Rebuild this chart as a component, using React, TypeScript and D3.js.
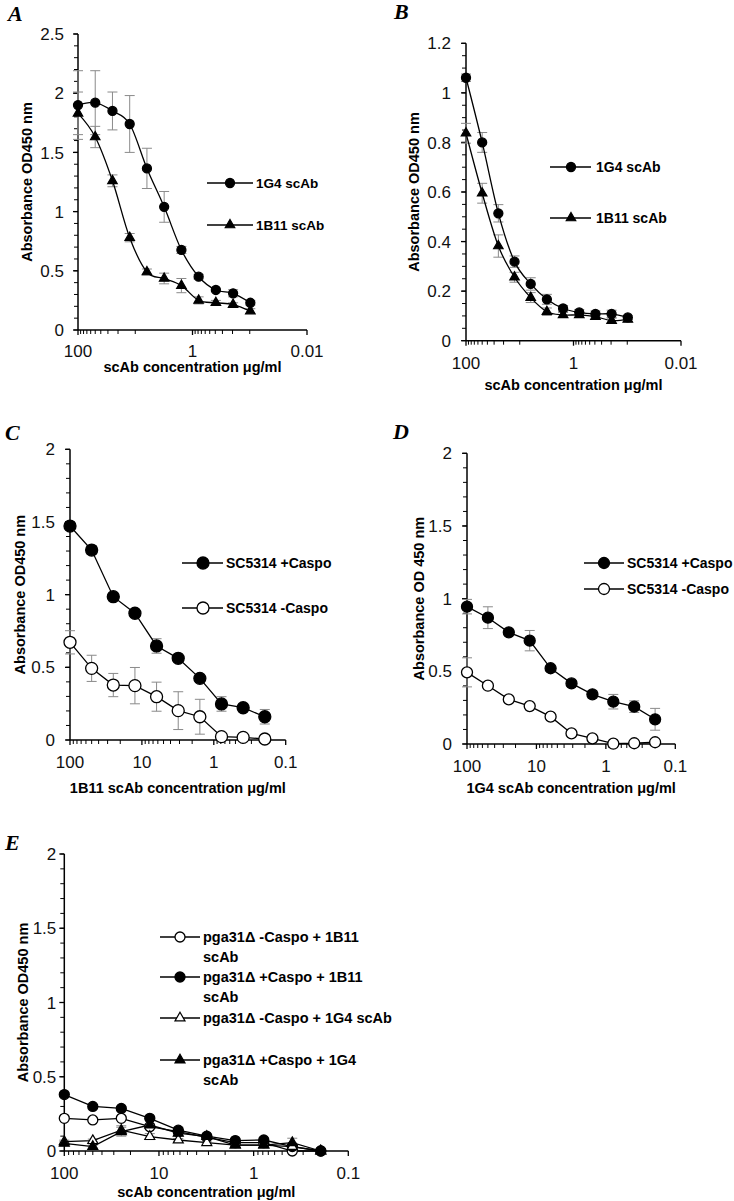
import React from 'react';
import * as d3 from 'd3';

// ---------- data ----------
const concAB = [100, 50, 25, 12.5, 6.25, 3.125, 1.5625, 0.78125, 0.390625, 0.1953125, 0.09765625];
const concCDE = [100, 50, 25, 12.5, 6.25, 3.125, 1.5625, 0.78125, 0.390625, 0.1953125];

const xTicksAB = [100, 1, 0.01];
const xTicksCDE = [100, 10, 1, 0.1];
const yTicksA = [0, 0.5, 1, 1.5, 2, 2.5];
const yTicksB = [0, 0.2, 0.4, 0.6, 0.8, 1, 1.2];
const yTicks2 = [0, 0.5, 1, 1.5, 2];

// Panel A
const a1G4 = [1.9, 1.92, 1.85, 1.74, 1.365, 1.04, 0.676, 0.45, 0.338, 0.31, 0.23];
const a1G4Err = [0.29, 0.27, 0.16, 0.24, 0.17, 0.13, 0.03, 0.02, 0.015, 0.03, 0.02];
const a1B11 = [1.83, 1.63, 1.26, 0.78, 0.49, 0.435, 0.375, 0.25, 0.23, 0.215, 0.16];
const a1B11Err = [0.18, 0.09, 0.05, 0.035, 0.025, 0.045, 0.06, 0.03, 0.02, 0.015, 0.02];

// Panel B
const b1G4 = [1.061, 0.8, 0.514, 0.319, 0.229, 0.167, 0.13, 0.114, 0.108, 0.108, 0.094];
const b1G4Err = [0.015, 0.04, 0.035, 0.023, 0.025, 0.02, 0.012, 0.012, 0.012, 0.015, 0.008];
const b1B11 = [0.837, 0.595, 0.382, 0.256, 0.174, 0.117, 0.104, 0.104, 0.097, 0.081, 0.086];
const b1B11Err = [0.04, 0.04, 0.045, 0.02, 0.02, 0.015, 0.01, 0.01, 0.01, 0.01, 0.008];

// Panel C
const cPlus = [1.472, 1.307, 0.986, 0.872, 0.647, 0.562, 0.424, 0.248, 0.222, 0.16];
const cPlusErr = [0.02, 0.03, 0.01, 0.01, 0.05, 0.01, 0.01, 0.05, 0.01, 0.05];
const cMinus = [0.672, 0.493, 0.378, 0.374, 0.298, 0.202, 0.16, 0.023, 0.018, 0.007];
const cMinusErr = [0.08, 0.09, 0.08, 0.125, 0.1, 0.13, 0.12, 0.01, 0.01, 0.005];

// Panel D
const dPlus = [0.945, 0.869, 0.768, 0.711, 0.521, 0.417, 0.342, 0.291, 0.257, 0.17];
const dPlusErr = [0.05, 0.075, 0.015, 0.07, 0.02, 0.02, 0.025, 0.05, 0.04, 0.075];
const dMinus = [0.493, 0.401, 0.307, 0.261, 0.188, 0.073, 0.039, 0.002, 0.005, 0.012];
const dMinusErr = [0.1, 0.01, 0.01, 0.01, 0.01, 0.01, 0.01, 0.005, 0.005, 0.005];

// Panel E
const eMinus1B11 = [0.22, 0.209, 0.22, 0.164, 0.13, 0.092, 0.056, 0.056, 0.0, 0.0];
const eMinus1B11Err = [0.01, 0.01, 0.01, 0.01, 0.01, 0.01, 0.01, 0.01, 0.005, 0.005];
const ePlus1B11 = [0.38, 0.3, 0.287, 0.22, 0.14, 0.1, 0.07, 0.074, 0.03, 0.0];
const ePlus1B11Err = [0.01, 0.01, 0.01, 0.01, 0.02, 0.01, 0.01, 0.01, 0.01, 0.005];
const eMinus1G4 = [0.063, 0.07, 0.14, 0.097, 0.074, 0.056, 0.04, 0.04, 0.03, 0.0];
const eMinus1G4Err = [0.01, 0.01, 0.03, 0.02, 0.01, 0.01, 0.01, 0.01, 0.01, 0.005];
const ePlus1G4 = [0.052, 0.03, 0.13, 0.175, 0.12, 0.097, 0.04, 0.04, 0.056, 0.0];
const ePlus1G4Err = [0.01, 0.01, 0.03, 0.01, 0.02, 0.01, 0.01, 0.01, 0.03, 0.005];

// ---------- styles ----------
const SANS = '"Liberation Sans", Arial, sans-serif';
const SERIF = '"Liberation Serif", "Times New Roman", serif';
const ERR = '#8a8a8a';

type Series = {
  label: string[];
  values: number[];
  errors: number[];
  marker: 'circle' | 'triangle';
  filled: boolean;
};

type PanelCfg = {
  letter: string; letterX: number; letterY: number;
  x0: number; x1: number; xDomain: [number, number];
  yTop: number; yBottom: number; yMax: number; yMinor: number;
  yTicks: number[]; xTicks: number[]; base100: boolean; tickGap: number;
  yTitle: string; yTitleX: number;
  xTitle: string; xTitleY: number; xTickY: number;
  tickFont: number; titleFont: number;
  conc: number[]; series: Series[]; smooth: boolean;
  r: number; tri: number;
  legend: { lx0: number; lx1: number; mx: number; tx: number; rows: number[]; font: number; lineGap: number };
};

function triPath(cx: number, cy: number, s: number) {
  const h = s * 0.866;
  return `M${cx},${cy - (2 * h) / 3}L${cx + s / 2},${cy + h / 3}L${cx - s / 2},${cy + h / 3}Z`;
}

function Marker({ x, y, s, r, tri }: { x: number; y: number; s: Series; r: number; tri: number }) {
  const fill = s.filled ? '#000' : '#fff';
  if (s.marker === 'circle') return <circle cx={x} cy={y} r={r} fill={fill} stroke="#000" strokeWidth={1.3} />;
  return <path d={triPath(x, y, tri)} fill={fill} stroke="#000" strokeWidth={1.2} />;
}

function Panel({ p }: { p: PanelCfg }) {
  const x = d3.scaleLog().domain(p.xDomain).range([p.x0, p.x1]);
  const y = d3.scaleLinear().domain([0, p.yMax]).range([p.yBottom, p.yTop]);
  const curve = p.smooth ? d3.curveCatmullRom.alpha(0) : d3.curveLinear;

  // minor ticks
  const xMinor: number[] = [];
  if (p.base100) {
    for (const dec of [1, 0.01]) for (let k = 10; k <= 90; k += 10) xMinor.push(dec * k);
  } else {
    for (const dec of [10, 1, 0.1]) for (let k = 2; k <= 9; k++) xMinor.push(dec * k);
  }
  const yMinor = d3.range(0, p.yMax + 1e-9, p.yMinor);

  return (
    <g>
      <text x={p.letterX} y={p.letterY} fontFamily={SERIF} fontWeight="bold" fontStyle="italic" fontSize={22}>{p.letter}</text>
      {/* y axis */}
      <line x1={p.x0} x2={p.x0} y1={p.yTop} y2={p.yBottom} stroke="#000" strokeWidth={1.5} />
      {yMinor.map((v, i) => (
        <line key={'ym' + i} x1={p.x0 - 4} x2={p.x0} y1={y(v)} y2={y(v)} stroke="#000" strokeWidth={1} />
      ))}
      {p.yTicks.map((v) => (
        <g key={'yt' + v}>
          <line x1={p.x0 - 5} x2={p.x0} y1={y(v)} y2={y(v)} stroke="#000" strokeWidth={1.3} />
          <text x={p.x0 - p.tickGap} y={y(v)} dy="0.36em" textAnchor="end" fontFamily={SANS} fontSize={p.tickFont} fill="#111">{String(v)}</text>
        </g>
      ))}
      {/* x axis */}
      <line x1={p.x0} x2={p.x1} y1={p.yBottom} y2={p.yBottom} stroke="#000" strokeWidth={1.5} />
      {xMinor.map((v, i) => (
        <line key={'xm' + i} x1={x(v)} x2={x(v)} y1={p.yBottom} y2={p.yBottom + 4} stroke="#000" strokeWidth={1} />
      ))}
      {p.xTicks.map((v) => (
        <g key={'xt' + v}>
          <line x1={x(v)} x2={x(v)} y1={p.yBottom} y2={p.yBottom + 5} stroke="#000" strokeWidth={1.3} />
          <text x={x(v)} y={p.xTickY} textAnchor="middle" fontFamily={SANS} fontSize={p.tickFont} fill="#111">{String(v)}</text>
        </g>
      ))}
      {/* titles */}
      <text transform={`translate(${p.yTitleX},${(p.yTop + p.yBottom) / 2}) rotate(-90)`} textAnchor="middle" dy="0.36em"
        fontFamily={SANS} fontWeight="bold" fontSize={p.titleFont}>{p.yTitle}</text>
      <text x={(p.x0 + p.x1) / 2} y={p.xTitleY} textAnchor="middle" fontFamily={SANS} fontWeight="bold" fontSize={p.titleFont}>{p.xTitle}</text>
      {/* error bars */}
      {p.series.map((s, si) => (
        <g key={'e' + si} stroke={ERR} strokeWidth={1}>
          {s.values.map((v, i) => {
            const cx = x(p.conc[i]);
            const t = y(v + s.errors[i]);
            const b = y(Math.max(0, v - s.errors[i]));
            return (
              <g key={i}>
                <line x1={cx} x2={cx} y1={t} y2={b} />
                <line x1={cx - 5} x2={cx + 5} y1={t} y2={t} />
                <line x1={cx - 5} x2={cx + 5} y1={b} y2={b} />
              </g>
            );
          })}
        </g>
      ))}
      {/* lines */}
      {p.series.map((s, si) => {
        const gen = d3.line<number>().x((_, i) => x(p.conc[i])).y((d) => y(d)).curve(curve);
        return <path key={'l' + si} d={gen(s.values) || ''} fill="none" stroke="#000" strokeWidth={1.3} />;
      })}
      {/* markers */}
      {p.series.map((s, si) => (
        <g key={'m' + si}>
          {s.values.map((v, i) => (
            <Marker key={i} x={x(p.conc[i])} y={y(v)} s={s} r={p.r} tri={p.tri} />
          ))}
        </g>
      ))}
      {/* legend */}
      {p.series.map((s, si) => {
        const ry = p.legend.rows[si];
        return (
          <g key={'lg' + si}>
            <line x1={p.legend.lx0} x2={p.legend.lx1} y1={ry} y2={ry} stroke="#000" strokeWidth={1.3} />
            <Marker x={p.legend.mx} y={ry} s={s} r={p.r} tri={p.tri} />
            <text x={p.legend.tx} y={ry} fontFamily={SANS} fontWeight="bold" fontSize={p.legend.font}>
              {s.label.map((t, k) => (
                <tspan key={k} x={p.legend.tx} dy={k === 0 ? '0.36em' : p.legend.lineGap}>{t}</tspan>
              ))}
            </text>
          </g>
        );
      })}
    </g>
  );
}

const panels: PanelCfg[] = [
  {
    letter: 'A', letterX: 8, letterY: 21,
    x0: 78, x1: 307, xDomain: [100, 0.01], yTop: 34, yBottom: 330, yMax: 2.5, yMinor: 0.1,
    yTicks: yTicksA, xTicks: xTicksAB, base100: true, tickGap: 14,
    yTitle: 'Absorbance OD450 nm', yTitleX: 27, xTitle: 'scAb concentration μg/ml', xTitleY: 372, xTickY: 357,
    tickFont: 17, titleFont: 14.5, conc: concAB, smooth: true, r: 4.5, tri: 9.5,
    series: [
      { label: ['1G4 scAb'], values: a1G4, errors: a1G4Err, marker: 'circle', filled: true },
      { label: ['1B11 scAb'], values: a1B11, errors: a1B11Err, marker: 'triangle', filled: true },
    ],
    legend: { lx0: 207, lx1: 253, mx: 230, tx: 256, rows: [183, 225], font: 13.5, lineGap: 0 },
  },
  {
    letter: 'B', letterX: 394, letterY: 19,
    x0: 466, x1: 681, xDomain: [100, 0.01], yTop: 43.3, yBottom: 340.7, yMax: 1.2, yMinor: 0.05,
    yTicks: yTicksB, xTicks: xTicksAB, base100: true, tickGap: 15,
    yTitle: 'Absorbance OD450 nm', yTitleX: 414, xTitle: 'scAb concentration μg/ml', xTitleY: 390, xTickY: 369,
    tickFont: 17, titleFont: 14.5, conc: concAB, smooth: true, r: 4.5, tri: 9.5,
    series: [
      { label: ['1G4 scAb'], values: b1G4, errors: b1G4Err, marker: 'circle', filled: true },
      { label: ['1B11 scAb'], values: b1B11, errors: b1B11Err, marker: 'triangle', filled: true },
    ],
    legend: { lx0: 550, lx1: 591, mx: 571, tx: 596, rows: [167, 218], font: 14, lineGap: 0 },
  },
  {
    letter: 'C', letterX: 5, letterY: 440,
    x0: 70, x1: 285.7, xDomain: [100, 0.1], yTop: 449.3, yBottom: 740, yMax: 2, yMinor: 0.1,
    yTicks: yTicks2, xTicks: xTicksCDE, base100: false, tickGap: 15,
    yTitle: 'Absorbance OD450 nm', yTitleX: 20, xTitle: '1B11 scAb concentration μg/ml', xTitleY: 793, xTickY: 768,
    tickFont: 17, titleFont: 14.5, conc: concCDE, smooth: false, r: 6, tri: 10,
    series: [
      { label: ['SC5314 +Caspo'], values: cPlus, errors: cPlusErr, marker: 'circle', filled: true },
      { label: ['SC5314 -Caspo'], values: cMinus, errors: cMinusErr, marker: 'circle', filled: false },
    ],
    legend: { lx0: 182, lx1: 223, mx: 203, tx: 226, rows: [563, 608], font: 14, lineGap: 0 },
  },
  {
    letter: 'D', letterX: 393, letterY: 439,
    x0: 467, x1: 675.3, xDomain: [100, 0.1], yTop: 453.3, yBottom: 744, yMax: 2, yMinor: 0.1,
    yTicks: yTicks2, xTicks: xTicksCDE, base100: false, tickGap: 15,
    yTitle: 'Absorbance OD 450 nm', yTitleX: 419, xTitle: '1G4 scAb concentration μg/ml', xTitleY: 793, xTickY: 772,
    tickFont: 17, titleFont: 14.5, conc: concCDE, smooth: false, r: 5.5, tri: 10,
    series: [
      { label: ['SC5314 +Caspo'], values: dPlus, errors: dPlusErr, marker: 'circle', filled: true },
      { label: ['SC5314 -Caspo'], values: dMinus, errors: dMinusErr, marker: 'circle', filled: false },
    ],
    legend: { lx0: 584, lx1: 624, mx: 604, tx: 627, rows: [563, 589], font: 14, lineGap: 0 },
  },
  {
    letter: 'E', letterX: 5, letterY: 850,
    x0: 64.3, x1: 348.3, xDomain: [100, 0.1], yTop: 854, yBottom: 1151, yMax: 2, yMinor: 0.1,
    yTicks: yTicks2, xTicks: xTicksCDE, base100: false, tickGap: 8,
    yTitle: 'Absorbance OD450 nm', yTitleX: 23, xTitle: 'scAb concentration μg/ml', xTitleY: 1197, xTickY: 1179,
    tickFont: 17, titleFont: 14.5, conc: concCDE, smooth: false, r: 5, tri: 10,
    series: [
      { label: ['pga31Δ -Caspo + 1B11', 'scAb'], values: eMinus1B11, errors: eMinus1B11Err, marker: 'circle', filled: false },
      { label: ['pga31Δ +Caspo + 1B11', 'scAb'], values: ePlus1B11, errors: ePlus1B11Err, marker: 'circle', filled: true },
      { label: ['pga31Δ -Caspo + 1G4 scAb'], values: eMinus1G4, errors: eMinus1G4Err, marker: 'triangle', filled: false },
      { label: ['pga31Δ +Caspo + 1G4', 'scAb'], values: ePlus1G4, errors: ePlus1G4Err, marker: 'triangle', filled: true },
    ],
    legend: { lx0: 160, lx1: 200, mx: 180, tx: 203, rows: [937, 977, 1018, 1060], font: 14.5, lineGap: 20 },
  },
];

export default function App() {
  return (
    <svg width={734} height={1201} style={{ position: 'absolute', left: 0, top: 0, background: '#fff' }}>
      <rect width={734} height={1201} fill="#fff" />
      {panels.map((p) => (
        <Panel key={p.letter} p={p} />
      ))}
    </svg>
  );
}
